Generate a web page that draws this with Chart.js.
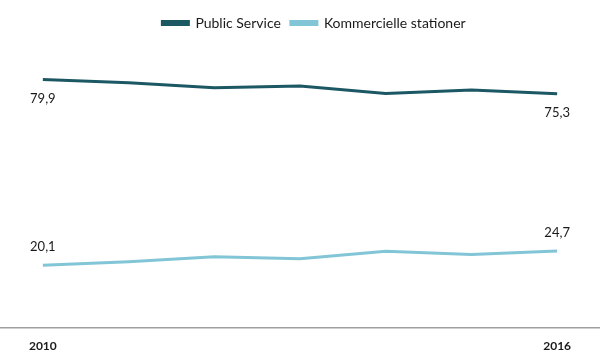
<!DOCTYPE html>
<html>
<head>
<meta charset="utf-8">
<script src="https://cdn.jsdelivr.net/npm/chart.js@4/dist/chart.umd.min.js"></script>
<style>
  html, body { margin: 0; padding: 0; background: #fff; }
  #wrap { width: 600px; height: 362px; }
</style>
</head>
<body>
<div id="wrap"><canvas id="chart"></canvas></div>
<script>
const years = ["2010", "2011", "2012", "2013", "2014", "2015", "2016"];
const publicService = [79.9, 78.8, 77.2, 77.8, 75.4, 76.5, 75.3];
const kommercielle = [20.1, 21.2, 22.8, 22.2, 24.6, 23.5, 24.7];
const shownYears = ["2010", "2016"];

const FONT = "Lato, 'Open Sans', sans-serif";

// labels at first and last point; public service below the line, the other above
const endLabels = {
  id: "endLabels",
  afterDatasetsDraw(chart) {
    const { ctx } = chart;
    ctx.save();
    ctx.font = `13px ${FONT}`;
    ctx.fillStyle = "#1a1a1a";
    ctx.textAlign = "center";
    ctx.textBaseline = "middle";
    chart.data.datasets.forEach((ds, di) => {
      const meta = chart.getDatasetMeta(di);
      const last = ds.data.length - 1;
      [0, last].forEach(i => {
        const pt = meta.data[i];
        const dy = di === 0 ? 19 : -18;
        const txt = ds.data[i].toFixed(1).replace(".", ",");
        ctx.fillText(txt, pt.x, pt.y + dy);
      });
    });
    ctx.restore();
  }
};

// the legend sits a bit right of centre in the original
const nudgeLegend = {
  id: "nudgeLegend",
  afterLayout(chart) {
    chart.legend.left += 14;
    chart.legend.right += 14;
  }
};

new Chart(document.getElementById("chart"), {
  type: "line",
  data: {
    labels: years,
    datasets: [
      {
        label: "Public Service",
        data: publicService,
        borderColor: "#1c5764",
        backgroundColor: "#1c5764",
        borderWidth: 3,
        pointRadius: 0,
        tension: 0
      },
      {
        label: "Kommercielle stationer",
        data: kommercielle,
        borderColor: "#82c5d6",
        backgroundColor: "#82c5d6",
        borderWidth: 3,
        pointRadius: 0,
        tension: 0
      }
    ]
  },
  options: {
    responsive: true,
    maintainAspectRatio: false,
    animation: false,
    layout: { padding: { left: 0, right: 0, top: 6, bottom: -2 } },
    plugins: {
      legend: {
        display: true,
        position: "top",
        labels: {
          boxWidth: 26,
          boxHeight: 3,
          color: "#1a1a1a",
          font: { family: FONT, size: 14 },
          padding: 10
        }
      },
      tooltip: { enabled: false }
    },
    scales: {
      x: {
        offset: true,
        grid: { display: false, drawTicks: false },
        border: { display: true, color: "#a0a0a0", width: 1.5 },
        ticks: {
          autoSkip: false,
          maxRotation: 0,
          padding: 11,
          color: "#1a1a1a",
          font: { family: FONT, size: 12, weight: "bold" },
          callback: function (value) {
            const lab = this.getLabelForValue(value);
            return shownYears.includes(lab) ? lab : "";
          }
        }
      },
      y: {
        display: false,
        min: 0,
        max: 92.6
      }
    }
  },
  plugins: [endLabels, nudgeLegend]
});
</script>
</body>
</html>
